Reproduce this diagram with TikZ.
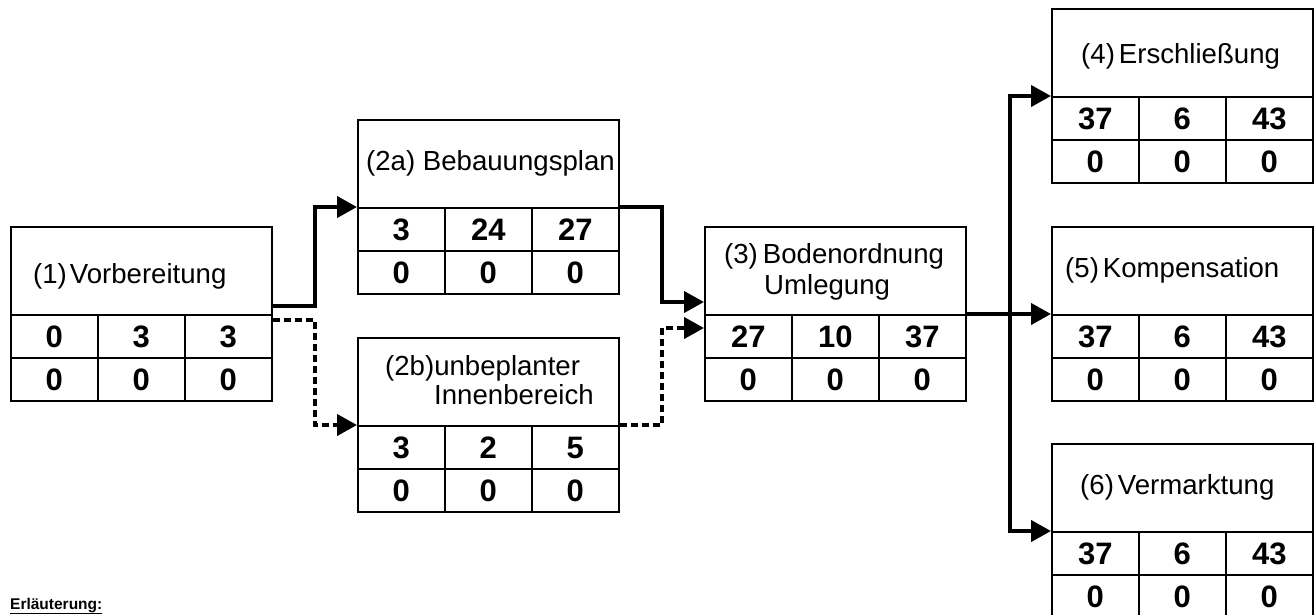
\documentclass[tikz,border=0pt]{standalone}
\usepackage{fontspec}
\setmainfont{Liberation Sans}
\usetikzlibrary{arrows.meta,calc}
\tikzset{
  hdr/.style={draw, line width=1.6pt, minimum width=261pt, minimum height=88pt, anchor=north west, inner sep=0pt},
  cell/.style={draw, line width=1.6pt, minimum width=87pt, minimum height=43pt, anchor=north west, inner sep=0pt, text height=22.2pt, text depth=0pt, font=\fontsize{31}{33}\selectfont\bfseries},
  ttl/.style={font=\fontsize{27.6}{32}\selectfont, inner sep=0pt, anchor=base west},
  conn/.style={line width=4pt, -{Triangle[length=20pt,width=21pt]}},
  dconn/.style={line width=4pt, dash pattern=on 7pt off 4pt, -{Triangle[length=20pt,width=21pt]}},
}
\newcommand\taskbox[6]{%
  \node[hdr] (#1) at (#2,#3) {};
  \node[cell] (#1-a) at (#2,#3+88) {#4};
  \node[cell] (#1-b) at (#2+87,#3+88) {#5};
  \node[cell] (#1-c) at (#2+174,#3+88) {#6};
  \node[cell] (#1-d) at (#2,#3+131) {0};
  \node[cell] (#1-e) at (#2+87,#3+131) {0};
  \node[cell] (#1-f) at (#2+174,#3+131) {0};
}
\begin{document}
\begin{tikzpicture}[x=1pt,y={(0pt,-1pt)}]
\useasboundingbox (0,0) rectangle (1316,614);
\fill[white] (0,0) rectangle (1316,614);

\taskbox{v1}{10}{226}{0}{3}{3}
\taskbox{v2a}{357}{119}{3}{24}{27}
\taskbox{v2b}{357}{337}{3}{2}{5}
\taskbox{v3}{704}{226}{27}{10}{37}
\taskbox{v4}{1051}{8}{37}{6}{43}
\taskbox{v5}{1051}{226}{37}{6}{43}
\taskbox{v6}{1051}{443}{37}{6}{43}

\node[ttl] (t1) at (33,283) {(1)\kern3pt Vorbereitung};
\node[ttl] (t2a) at (366,170) {(2a) Bebauungsplan};
\node[ttl] (t2b) at (385,375) {(2b)unbeplanter};
\node[ttl] (t2b2) at (434,404) {Innenbereich};
\node[ttl] (t3) at (724,263) {(3)\kern5pt Bodenordnung};
\node[ttl] (t32) at (764,294) {Umlegung};
\node[ttl] (t4) at (1081,63) {(4)\kern4pt Erschließung};
\node[ttl] (t5) at (1065,277) {(5)\kern4pt Kompensation};
\node[ttl] (t6) at (1080,494) {(6)\kern4pt Vermarktung};

% connectors
\draw[conn] ($(v1-c.north east)+(0,-8)$) -- ++(42,0) |- (v2a-a.north west);
\draw[dconn] ($(v1-c.north east)+(0,6)$) -- ++(42,0) |- (v2b-a.north west);
\draw[conn] (v2a-c.north east) -- ++(42,0) |- ($(v3-a.north west)+(0,-12)$);
\draw[dconn] (v2b-c.north east) -- ++(42,0) |- ($(v3-a.north west)+(0,14)$);
\coordinate (j) at ($(v3-c.north east)+(43,0)$);
\draw[conn] (v3-c.north east) -- (v5-a.north west);
\draw[conn] (j) |- (v4-a.north west);
\draw[conn] (j) |- (v6-a.north west);

\node[font=\fontsize{15.5}{17}\selectfont\bfseries, inner sep=0pt, anchor=base west] (leg) at (10,609) {\underline{Erläuterung:}};
\end{tikzpicture}
\end{document}
